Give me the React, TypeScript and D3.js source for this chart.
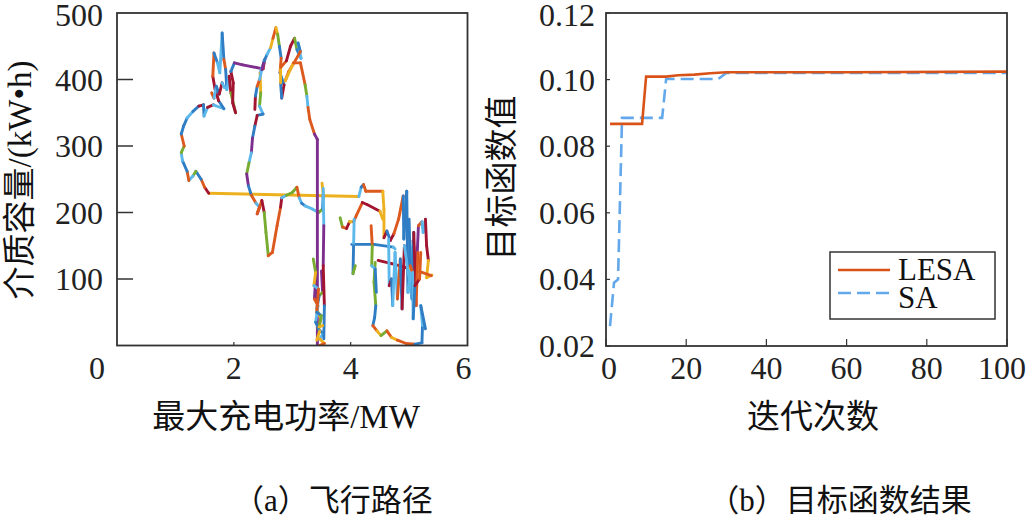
import React, { useEffect } from "react";
import * as d3 from "d3";

// ---------- Data: (a) path in (最大充电功率 MW, 介质容量 kW·h, colour index of the segment ending here)
const palette = ["#2f7dc4", "#dd5a1f", "#edb120", "#7e2f8e", "#77ac30", "#5cb8ea", "#a2142f"];

const pathA: number[][] = [
  [4.14, 224, 0], [1.57, 229, 2], [1.5, 238, 6], [1.44, 250, 1], [1.35, 262, 0], [1.3, 255, 4],
  [1.23, 248, 5], [1.2, 262, 1], [1.12, 278, 0], [1.1, 290, 5], [1.15, 300, 4], [1.1, 318, 1],
  [1.14, 330, 0], [1.2, 342, 0], [1.3, 352, 5], [1.4, 360, 0], [1.48, 362, 6], [1.49, 345, 0],
  [1.55, 358, 5], [1.65, 362, 6], [1.83, 356, 5], [1.74, 368, 0], [1.68, 385, 6], [1.64, 405, 6],
  [1.66, 440, 1], [1.72, 425, 0], [1.76, 410, 5], [1.8, 470, 5], [1.83, 430, 0], [1.86, 415, 1],
  [1.88, 385, 0], [1.92, 405, 5], [1.95, 380, 6], [2.03, 350, 4], [1.98, 365, 6], [1.99, 395, 6],
  [1.95, 412, 6], [2.01, 425, 0], [2.15, 422, 3], [2.5, 416, 3], [2.53, 430, 6], [2.45, 410, 5],
  [2.46, 380, 2], [2.44, 360, 4], [2.5, 348, 5], [2.4, 346, 0], [2.36, 330, 6], [2.32, 312, 0],
  [2.3, 290, 3], [2.26, 275, 5], [2.22, 258, 4], [2.25, 240, 3], [2.3, 226, 0], [2.38, 214, 1],
  [2.44, 208, 5], [2.4, 198, 6], [2.48, 218, 1], [2.52, 200, 6], [2.55, 170, 4], [2.59, 135, 4],
  [2.66, 140, 1], [2.74, 180, 1], [2.8, 208, 1], [2.82, 222, 6], [2.9, 226, 5], [3.0, 230, 4],
  [3.08, 238, 4], [3.12, 222, 1], [3.16, 214, 5], [3.22, 210, 0], [3.35, 205, 5], [3.45, 200, 5],
  [3.52, 205, 4], [3.53, 228, 0], [3.51, 244, 2],
];

const pathB: number[][] = [
  [2.36, 355, 0], [2.37, 375, 6], [2.4, 390, 0], [2.44, 400, 1], [2.48, 415, 5], [2.52, 428, 3],
  [2.57, 438, 0], [2.63, 448, 5], [2.67, 462, 2], [2.72, 478, 1], [2.75, 468, 2], [2.78, 450, 4],
  [2.81, 432, 0], [2.79, 410, 1], [2.86, 392, 0], [2.82, 372, 6], [2.8, 395, 0], [2.8, 418, 2],
  [2.9, 428, 1], [2.97, 450, 6], [3.04, 462, 6], [3.08, 445, 4], [3.15, 432, 0], [3.1, 455, 5],
  [3.14, 442, 0], [3.03, 425, 1], [2.94, 412, 1], [2.88, 398, 1], [3.02, 425, 2], [3.14, 425, 1],
  [3.22, 392, 1], [3.25, 375, 4], [3.27, 358, 5], [3.3, 340, 1], [3.38, 318, 1], [3.43, 310, 3],
  [3.43, 0, 3],
];

const pathC: number[][] = [
  [3.5, 112, 0], [3.52, 80, 3], [3.46, 75, 4], [3.42, 55, 0], [3.49, 40, 2], [3.44, 25, 1],
  [3.53, 18, 0], [3.47, 10, 5], [3.55, 3, 2], [3.46, 0, 1],
];

const pathC2: number[][] = [
  [3.4, 100, 0], [3.38, 70, 3], [3.44, 60, 1], [3.4, 35, 5], [3.47, 22, 0], [3.42, 8, 2],
];

const pathD: number[][] = [
  [3.53, 236, 0], [3.54, 180, 5], [3.53, 120, 3], [3.55, 60, 6], [3.54, 10, 0],
];

const pathE: number[][] = [
  [4.14, 224, 0], [4.18, 238, 5], [4.22, 242, 0], [4.26, 232, 1], [4.55, 232, 1], [4.57, 205, 2],
  [4.57, 162, 2], [4.62, 172, 6], [4.68, 158, 0], [4.74, 168, 6], [4.82, 190, 1], [4.9, 225, 1],
  [4.91, 160, 0], [4.96, 232, 0], [4.98, 80, 0], [5.03, 120, 5], [5.07, 158, 5], [5.12, 100, 6],
  [5.16, 180, 3], [5.22, 186, 1], [5.24, 170, 5], [5.28, 190, 5], [5.3, 150, 6], [5.33, 128, 6],
  [5.3, 102, 2], [5.39, 106, 2],
];

const pathF: number[][] = [
  [4.47, 128, 0], [4.7, 123, 6], [5.0, 116, 6], [5.22, 110, 2], [5.38, 105, 1],
];

const pathG: number[][] = [
  [3.82, 192, 0], [3.86, 178, 4], [3.93, 176, 1], [3.98, 186, 6], [4.05, 186, 2], [4.1, 196, 1],
  [4.2, 215, 1], [4.28, 212, 6], [4.5, 202, 6], [4.55, 190, 2],
];

const pathG2: number[][] = [[4.02, 152, 0], [4.4, 152, 0], [4.73, 148, 0], [4.76, 145, 5]];
const pathG3: number[][] = [[4.06, 190, 0], [4.05, 150, 5], [4.04, 108, 0], [4.08, 120, 4]];

const pathH: number[][] = [
  [4.42, 125, 0], [4.4, 95, 4], [4.43, 60, 4], [4.41, 42, 0], [4.38, 30, 0], [4.45, 22, 1],
  [4.52, 15, 2], [4.62, 22, 4], [4.7, 12, 1], [4.8, 8, 2], [4.95, 3, 1], [5.1, 2, 1],
  [5.22, 4, 0], [5.23, 30, 0], [5.2, 60, 5], [5.28, 25, 0],
];

const pathI: number[][] = [
  [4.65, 160, 0], [4.66, 90, 5], [4.7, 100, 6], [4.72, 60, 0], [4.76, 140, 5], [4.8, 70, 5],
  [4.85, 130, 1], [4.88, 55, 0], [4.92, 150, 6], [5.05, 70, 5], [5.08, 170, 0], [5.12, 60, 6],
  [5.15, 140, 1],
];

const pathJ: number[][] = [
  [1.62, 380, 0], [1.66, 372, 1], [1.7, 390, 5], [1.75, 378, 0], [1.8, 395, 6], [1.84, 388, 5],
];

const pathK: number[][] = [
  [3.36, 130, 0], [3.4, 110, 4], [3.37, 90, 2], [3.45, 85, 5], [3.42, 50, 1], [3.5, 45, 0],
  [3.46, 28, 4], [3.52, 30, 2],
];

const pathL: number[][] = [
  [4.35, 180, 0], [4.37, 150, 1], [4.36, 120, 4], [4.42, 115, 5], [4.44, 80, 0],
];

const pathM: number[][] = [
  [5.0, 190, 0], [5.02, 120, 0], [5.06, 110, 1], [5.07, 40, 5], [5.1, 90, 0], [5.18, 100, 6],
  [5.2, 140, 1],
];

const paths = [pathA, pathB, pathC, pathC2, pathD, pathE, pathF, pathG, pathG2, pathG3, pathH, pathI, pathJ, pathK, pathL, pathM];

const xTicksA = [0, 2, 4, 6];
const yTicksA = [100, 200, 300, 400, 500];

// ---------- Data: (b) objective function vs iteration
const lesaIter = [1, 9, 10, 15, 18, 22, 26, 30, 60, 100];
const lesaVal = [0.0867, 0.0867, 0.1009, 0.1009, 0.1013, 0.1015, 0.1019, 0.1022, 0.1022, 0.1024];
const saIter = [1, 2, 3, 4, 14, 15, 28, 30, 100];
const saVal = [0.026, 0.039, 0.04, 0.0885, 0.0885, 0.1002, 0.1002, 0.102, 0.102];

const xTicksB = [0, 20, 40, 60, 80, 100];
const yTicksB = [0.02, 0.04, 0.06, 0.08, 0.1, 0.12];

const SERIF = "'Liberation Serif', 'Times New Roman', 'Noto Sans CJK SC', serif";
const CJK = "'Liberation Serif', 'Noto Sans CJK SC', serif";

export default function App() {
  useEffect(() => {
    document.body.style.margin = "0";
  }, []);

  // scales (a)
  const xA = d3.scaleLinear().domain([0, 6]).range([117, 467.5]);
  const yA = d3.scaleLinear().domain([0, 500]).range([345.5, 13]);
  // scales (b)
  const xB = d3.scaleLinear().domain([0, 100]).range([606, 1007]);
  const yB = d3.scaleLinear().domain([0.02, 0.12]).range([346, 13]);

  const lesaPts = lesaIter.map((it, i) => [xB(it), yB(lesaVal[i])] as [number, number]);
  const saPts = saIter.map((it, i) => [xB(it), yB(saVal[i])] as [number, number]);
  const lineGen = d3.line();

  const frame = "#333";

  return (
    <svg width={1027} height={520} style={{ display: "block", background: "#fff" }}>
      <defs>
        <clipPath id="clipA">
          <rect x={117} y={13} width={350.5} height={332.5} />
        </clipPath>
      </defs>

      {/* ===== (a) ===== */}
      <g clipPath="url(#clipA)" strokeLinecap="round">
        {paths.map((p, pi) =>
          p.slice(1).map((pt, i) => (
            <line
              key={`${pi}-${i}`}
              x1={xA(p[i][0])}
              y1={yA(p[i][1])}
              x2={xA(pt[0])}
              y2={yA(pt[1])}
              stroke={palette[pt[2]]}
              strokeWidth={2.9}
            />
          ))
        )}
      </g>
      <rect x={117} y={13} width={350.5} height={332.5} fill="none" stroke={frame} strokeWidth={1.8} />
      {yTicksA.map((t) => (
        <g key={t}>
          {t < 500 && <line x1={117} x2={133} y1={yA(t)} y2={yA(t)} stroke={frame} strokeWidth={1.5} />}
          <text x={103} y={yA(t) + (t === 500 ? 2 : 0)} textAnchor="end" dominantBaseline="central" fontFamily={SERIF} fontSize={32} fill="#222">
            {t}
          </text>
        </g>
      ))}
      {xTicksA.map((t, i) => (
        <g key={t}>
          {i > 0 && i < 3 && <line x1={xA(t)} x2={xA(t)} y1={345.5} y2={342} stroke={frame} strokeWidth={1.2} />}
          <text x={xA(t) + (i === 0 ? -20 : i === 3 ? -4 : 0)} y={368} textAnchor="middle" dominantBaseline="central" fontFamily={SERIF} fontSize={32} fill="#222">
            {t}
          </text>
        </g>
      ))}
      <text x={286} y={417} textAnchor="middle" dominantBaseline="central" fontFamily={CJK} fontSize={33} fill="#111">
        最大充电功率/MW
      </text>
      <text transform="translate(20,180) rotate(-90)" textAnchor="middle" dominantBaseline="central" fontFamily={CJK} fontSize={33} fill="#111">
        介质容量/(kW•h)
      </text>
      <text x={333} y={500} textAnchor="middle" dominantBaseline="central" fontFamily={CJK} fontSize={31} fill="#111">
        （a）飞行路径
      </text>

      {/* ===== (b) ===== */}
      <path d={lineGen(saPts) || ""} fill="none" stroke="#62a8ea" strokeWidth={2.6} strokeDasharray="13 6" />
      <path d={lineGen(lesaPts) || ""} fill="none" stroke="#d95319" strokeWidth={2.6} />
      <rect x={606} y={13} width={401} height={333} fill="none" stroke={frame} strokeWidth={1.8} />
      {yTicksB.map((t) => (
        <g key={t}>
          <line x1={606} x2={610} y1={yB(t)} y2={yB(t)} stroke={frame} strokeWidth={1.2} />
          <text x={595} y={yB(t) + (t === 0.12 ? 2 : 0)} textAnchor="end" dominantBaseline="central" fontFamily={SERIF} fontSize={32} fill="#222">
            {t.toFixed(2)}
          </text>
        </g>
      ))}
      {xTicksB.map((t) => (
        <g key={t}>
          <line x1={xB(t)} x2={xB(t)} y1={346} y2={339} stroke={frame} strokeWidth={1.2} />
          <text x={xB(t) + (t === 100 ? -5 : t === 0 ? 3 : 0)} y={368} textAnchor="middle" dominantBaseline="central" fontFamily={SERIF} fontSize={32} fill="#222">
            {t}
          </text>
        </g>
      ))}
      <text x={813} y={417} textAnchor="middle" dominantBaseline="central" fontFamily={CJK} fontSize={33} fill="#111">
        迭代次数
      </text>
      <text transform="translate(502,178) rotate(-90)" textAnchor="middle" dominantBaseline="central" fontFamily={CJK} fontSize={33} fill="#111">
        目标函数值
      </text>
      <text x={840} y={500} textAnchor="middle" dominantBaseline="central" fontFamily={CJK} fontSize={31} fill="#111">
        （b）目标函数结果
      </text>

      {/* legend */}
      <rect x={830} y={252} width={165} height={67} fill="#fff" stroke={frame} strokeWidth={1.5} />
      <line x1={838} x2={890} y1={270} y2={270} stroke="#d95319" strokeWidth={2.6} />
      <line x1={838} x2={890} y1={293} y2={293} stroke="#62a8ea" strokeWidth={2.6} strokeDasharray="13 6" />
      <text x={898} y={269} dominantBaseline="central" fontFamily={SERIF} fontSize={31} fill="#111">
        LESA
      </text>
      <text x={898} y={297} dominantBaseline="central" fontFamily={SERIF} fontSize={31} fill="#111">
        SA
      </text>
    </svg>
  );
}
